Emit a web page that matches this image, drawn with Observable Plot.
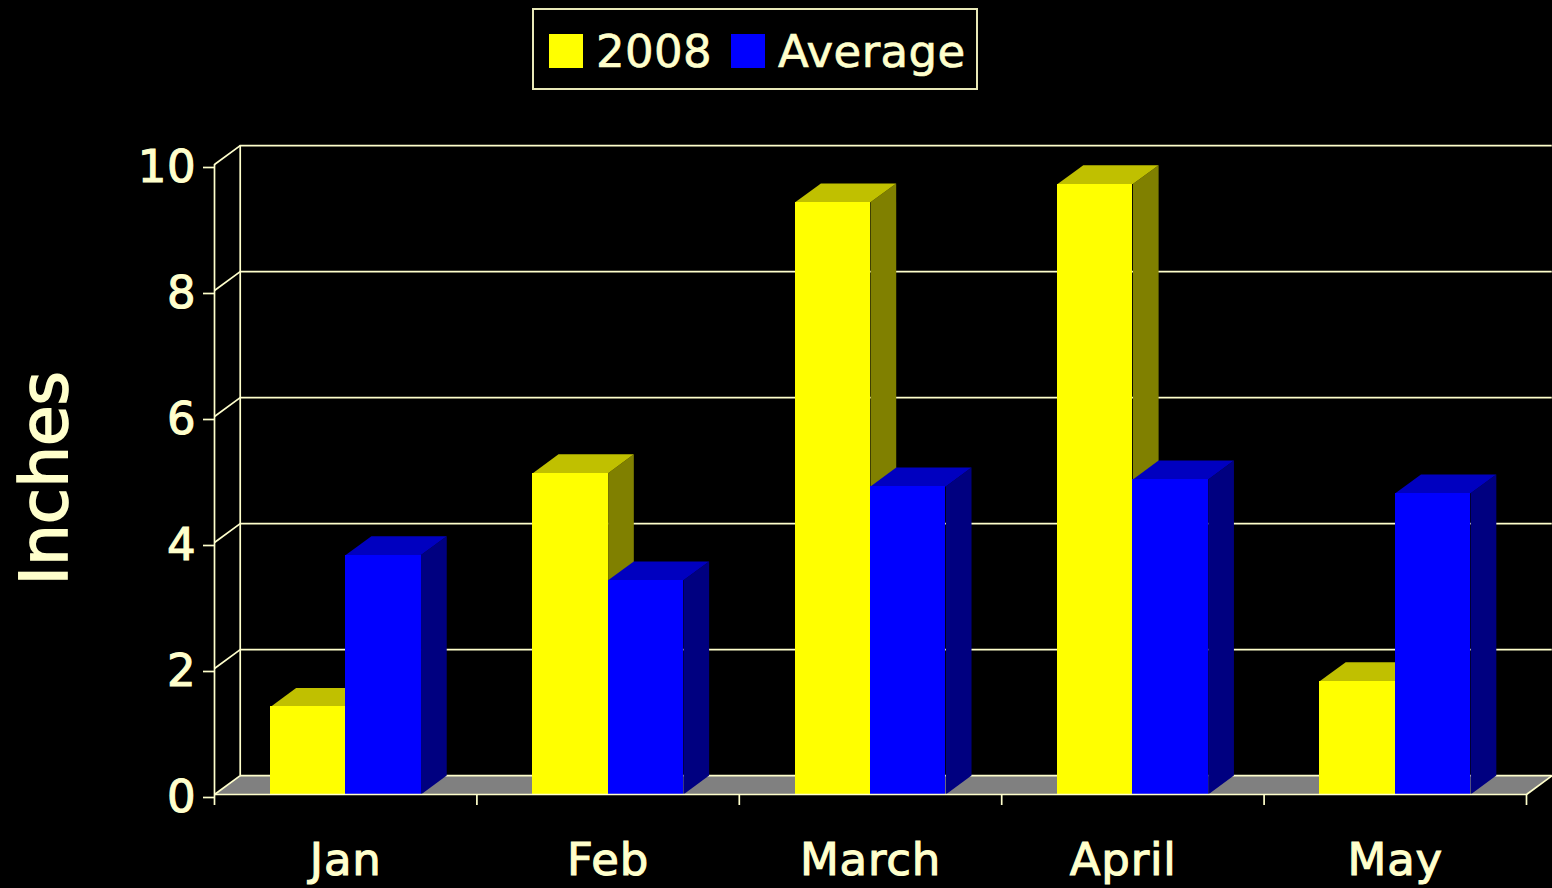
<!DOCTYPE html>
<html>
<head>
<meta charset="utf-8">
<script src="https://cdn.jsdelivr.net/npm/d3@7"></script>
<script src="https://cdn.jsdelivr.net/npm/@observablehq/plot@0.6"></script>
<style>
  html, body { margin: 0; padding: 0; background: #000; width: 1552px; height: 888px; overflow: hidden; }
  body { font-family: "DejaVu Sans", sans-serif; color: #FFFFCC; }
  #head { position: relative; height: 100px; }
  #legend { position: absolute; left: 532px; top: 8px; width: 442px; height: 78px; border: 2px solid #E8E8B8; box-sizing: content-box; }
  #legend i { position: absolute; top: 24px; width: 34px; height: 34px; }
  #legend span { position: absolute; top: 15px; font-size: 45px; line-height: 54px; -webkit-text-stroke: 0.7px #FFFFCC; letter-spacing: 0.4px; }
  #chart svg { display: block; overflow: visible; }
  #chart svg text { stroke: #FFFFCC; stroke-width: 1.1px; letter-spacing: 0.8px; }
  #chart svg g[font-size="66"] text { stroke-width: 1.6px; letter-spacing: 0; }
</style>
</head>
<body>
<div id="head">
  <div id="legend">
    <i style="left:15px;background:#FFFF00"></i><span style="left:62px">2008</span>
    <i style="left:197px;background:#0000FF"></i><span style="left:244px">Average</span>
  </div>
</div>
<div id="chart"></div>
<script>
const months = ["Jan", "Feb", "March", "April", "May"];
const values2008 = [1.39, 5.1, 9.4, 9.69, 1.8];
const valuesAverage = [3.8, 3.4, 4.89, 5.0, 4.78];
const yTicks = [0, 2, 4, 6, 8, 10];
const xTicks = [0, 1, 2, 3, 4, 5];

const ink = "#FFFFCC";
const depthX = 0.098;   // oblique depth, in category units
const depthY = 0.3;     // oblique depth, in inches
const barW = 0.287;     // one bar's width, in category units

function faces(values, offset) {
  return values.map((v, i) => ({ x1: i + 0.5 + offset, x2: i + 0.5 + offset + barW, v, i }));
}
const bars2008 = faces(values2008, -barW);
const barsAverage = faces(valuesAverage, 0);

function sidePoly(bars) {
  return bars.flatMap(b => [
    { id: b.i, x: b.x2, y: 0 },
    { id: b.i, x: b.x2 + depthX, y: depthY },
    { id: b.i, x: b.x2 + depthX, y: b.v + depthY },
    { id: b.i, x: b.x2, y: b.v }
  ]);
}
function topPoly(bars) {
  return bars.flatMap(b => [
    { id: b.i, x: b.x1, y: b.v },
    { id: b.i, x: b.x1 + depthX, y: b.v + depthY },
    { id: b.i, x: b.x2 + depthX, y: b.v + depthY },
    { id: b.i, x: b.x2, y: b.v }
  ]);
}
const poly = (pts, fill) => Plot.line(pts, { x: "x", y: "y", z: "id", fill, stroke: null });
const front = (bars, fill) => Plot.rectY(bars, { x1: "x1", x2: "x2", y1: 0, y2: "v", fill, inset: 0, shapeRendering: "crispEdges" });
const lineStyle = { stroke: ink, strokeWidth: 1.7 };

const floor = [
  { id: 0, x: 0, y: 0 },
  { id: 0, x: depthX, y: depthY },
  { id: 0, x: 5 + depthX, y: depthY },
  { id: 0, x: 5, y: 0 }
];

const chart = Plot.plot({
  width: 1552,
  height: 788,
  marginTop: 64,
  marginBottom: 94,
  marginLeft: 214,
  marginRight: 26,
  style: { background: "#000", fontFamily: "DejaVu Sans, sans-serif", overflow: "visible" },
  x: { type: "linear", domain: [0, 5] },
  y: { type: "linear", domain: [0, 10] },
  marks: [
    poly(floor, "#808080"),
    Plot.ruleY(yTicks, { y: d => d + depthY, x1: depthX, x2: 5 + depthX, ...lineStyle }),
    Plot.ruleX([depthX], { y1: depthY, y2: 10 + depthY, ...lineStyle }),
    Plot.ruleX([0], { y1: 0, y2: 10, ...lineStyle }),
    Plot.link(yTicks, { x1: 0, y1: d => d, x2: depthX, y2: d => d + depthY, ...lineStyle }),
    Plot.link([0], { x1: 5, y1: 0, x2: 5 + depthX, y2: depthY, ...lineStyle }),

    poly(sidePoly(bars2008), "#808000"),
    poly(topPoly(bars2008), "#C0C000"),
    front(bars2008, "#FFFF00"),
    poly(sidePoly(barsAverage), "#000080"),
    poly(topPoly(barsAverage), "#0000C0"),
    front(barsAverage, "#0000FF"),

    Plot.ruleY([0], { x1: 0, x2: 5, ...lineStyle }),
    Plot.axisY({ ticks: yTicks, tickSize: 11, tickPadding: 7, label: null, stroke: ink, fill: ink, fontSize: 45, strokeWidth: 1.7, dy: 3 }),
    Plot.axisX({ ticks: xTicks, tickSize: 11, tickFormat: () => "", label: null, stroke: ink, strokeWidth: 1.7 }),
    Plot.text(months, {
      x: (d, i) => i + 0.5 - (d === "April" ? 0.037 : 0),
      y: 0,
      text: d => d,
      dy: 66,
      fill: ink,
      fontSize: 45,
      textAnchor: "middle"
    }),
    Plot.text(["Inches"], {
      frameAnchor: "left",
      y: 5.02,
      dx: -169,
      rotate: -90,
      text: d => d,
      fill: ink,
      fontSize: 66,
      textAnchor: "middle"
    })
  ]
});
document.getElementById("chart").appendChild(chart);
</script>
</body>
</html>
